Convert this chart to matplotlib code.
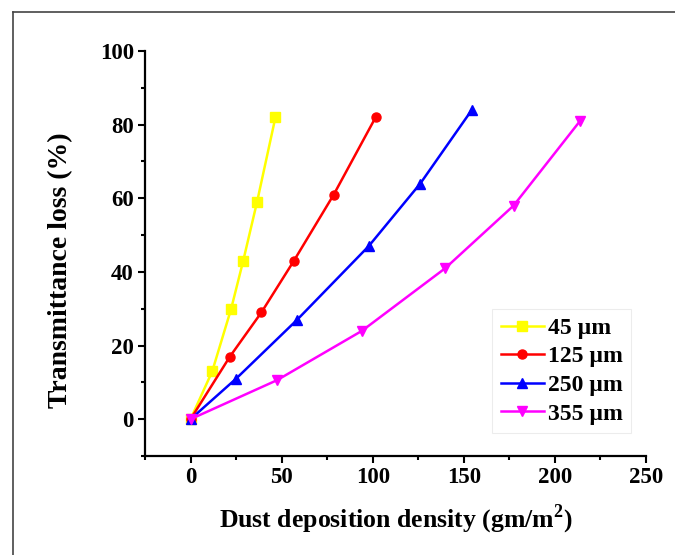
import matplotlib
matplotlib.use("Agg")
import matplotlib.pyplot as plt
from matplotlib.lines import Line2D
from matplotlib.ticker import MultipleLocator

plt.rcParams['font.family'] = ['Liberation Serif', 'DejaVu Serif']
plt.rcParams['font.weight'] = 'bold'
plt.rcParams['mathtext.fontset'] = 'custom'
plt.rcParams['mathtext.rm'] = 'Liberation Serif:bold'
plt.rcParams['mathtext.bf'] = 'Liberation Serif:bold'

# values
x_45 = [0, 11.9, 22.3, 28.9, 36.5, 46.6]
y_45 = [0, 13, 30, 43, 59, 82]
x_125 = [0, 21.6, 38.9, 56.7, 78.6, 101.6]
y_125 = [0, 17, 29, 43, 61, 82]
x_250 = [0, 25, 58.5, 97.8, 126.1, 154.4]
y_250 = [0, 11, 27, 47, 64, 84]
x_355 = [0, 47.5, 94.1, 139.8, 177.3, 213.8]
y_355 = [0, 10.6, 24, 41, 58, 81]

series = [
    (x_45, y_45, '#FFFF00', 's', '45 \u00b5m'),
    (x_125, y_125, '#FF0000', 'o', '125 \u00b5m'),
    (x_250, y_250, '#0000FF', '^', '250 \u00b5m'),
    (x_355, y_355, '#FF00FF', 'v', '355 \u00b5m'),
]

fig = plt.figure(figsize=(6.75, 5.55), dpi=100)
ax = fig.add_axes([145/675, 1 - 456/555, (646 - 145)/675, (456 - 51)/555])

for xs, ys, c, m, lab in series:
    ax.plot(xs, ys, color=c, marker=m, markersize=6.5, linewidth=1.8, label=lab)

ax.set_xlim(-25, 250)
ax.set_ylim(-10, 100)
ax.set_xticks([0, 50, 100, 150, 200, 250])
ax.set_yticks([0, 20, 40, 60, 80, 100])
ax.xaxis.set_minor_locator(MultipleLocator(25))
ax.yaxis.set_minor_locator(MultipleLocator(10))

for s in ['top', 'right']:
    ax.spines[s].set_visible(False)
for s in ['left', 'bottom']:
    ax.spines[s].set_linewidth(1.6)

ax.tick_params(which='major', direction='out', length=5, width=1.5, labelsize=16.5, pad=3)
ax.tick_params(which='minor', direction='out', length=3, width=1.5)

ax.set_xlabel('Dust deposition density (gm/m$^{2}$)', fontsize=18.5, fontweight='bold')
ax.set_ylabel('Transmittance loss (%)', fontsize=20, fontweight='bold')
ax.xaxis.label.set_va('center')
ax.yaxis.label.set_va('center')
ax.xaxis.set_label_coords(0.5, (456 - 519) / 405)
ax.yaxis.set_label_coords((61 - 145) / 501, (456 - 270) / 405)

leg = ax.legend(loc='lower right', fontsize=17, frameon=True, fancybox=False,
                handlelength=1.85, handletextpad=0.15, borderpad=0.35, labelspacing=0.3,
                borderaxespad=0, bbox_to_anchor=(0.970, 0.057))
leg.get_frame().set_edgecolor('#e8e8e8')
leg.get_frame().set_linewidth(0.8)
for t in leg.get_texts():
    t.set_fontweight('bold')

# picture frame (cropped box around the figure)
fig.add_artist(Line2D([13/675, 1], [1 - 12/555, 1 - 12/555], transform=fig.transFigure,
                      color='#444444', linewidth=1.2))
fig.add_artist(Line2D([13/675, 13/675], [0, 1 - 12/555], transform=fig.transFigure,
                      color='#444444', linewidth=1.2))

fig.savefig('out.png', dpi=100)
